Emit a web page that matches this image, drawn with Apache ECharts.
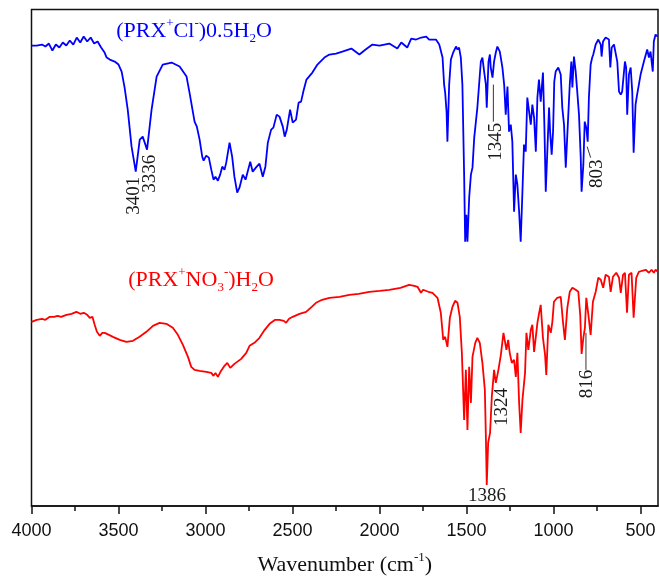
<!DOCTYPE html>
<html><head><meta charset="utf-8">
<script src="https://cdn.jsdelivr.net/npm/echarts@6/dist/echarts.min.js"></script>
<style>html,body{margin:0;padding:0;background:#fff}#c{width:659px;height:577px}</style>
</head><body><div id="c"></div>
<script>
// ---- data (wavenumber cm-1, transmittance in arbitrary offset units) ----
const clSpectrum = [[4000,460],[3970,460],[3940,461],[3920,459],[3900,462],[3880,455],[3860,461],[3840,458],[3820,463],[3800,460],[3780,465],[3760,461],[3740,468],[3720,463],[3700,469],[3680,464],[3660,468],[3640,462],[3620,464],[3600,458],[3580,453],[3568,448],[3550,446],[3522,444],[3500,441],[3482,434],[3465,418],[3447,396],[3425,359],[3401,334],[3378,366],[3361,369],[3336,356],[3310,396],[3281,429],[3246,441],[3195,443],[3149,439],[3109,429],
[3092,413],[3063,384],[3050,379],[3034,366],[3019,349],[3011,345],[2996,350],[2981,348],[2967,336],[2954,326],[2943,329],[2929,325],[2916,331],[2904,339],[2891,336],[2881,343],[2862,363],[2847,349],[2834,329],[2818,313],[2805,318],[2786,331],[2770,326],[2743,344],[2729,334],[2706,339],[2690,342],[2671,329],[2656,339],[2642,363],[2623,376],[2610,378],[2591,391],[2575,389],[2556,379],[2545,369],[2533,376],[2514,396],[2499,383],[2480,386],[2465,403],[2451,404],[2438,414],
[2420,426],[2386,433],[2357,441],[2317,448],[2288,451],[2250,452],[2214,454],[2162,457],[2116,451],[2080,456],[2041,461],[2000,460],[1944,462],[1898,457],[1875,463],[1841,458],[1818,467],[1790,466],[1760,468],[1732,469],[1715,466],[1676,466],
[1657,461],[1638,448],[1629,421],[1623,413],[1615,394],[1610,364],[1600,421],[1590,446],[1577,453],[1561,459],[1552,456],[1543,458],[1533,448],[1524,421],[1514,331],[1508,264],[1501,291],[1495,264],[1485,308],[1475,331],[1466,338],[1456,368],[1438,398],[1418,444],[1409,448],[1399,434],[1389,421],[1384,398],[1374,444],[1366,451],[1361,438],[1351,428],[1342,444],[1332,453],[1323,459],[1309,454],[1294,438],[1284,421],[1275,391],[1265,419],[1256,374],[1246,381],[1237,364],[1227,294],[1217,331],[1208,321],[1198,294],[1189,264],[1179,314],[1170,361],[1160,354],[1151,408],[1141,409],[1131,381],[1122,401],[1112,388],[1102,354],[1093,408],[1084,426],[1074,404],[1061,433],[1053,381],[1045,314],[1036,354],[1026,398],[1020,374],[1011,351],[1003,374],[996,424],[988,434],[973,438],[959,431],[950,398],[940,381],[930,338],[921,371],[907,421],[898,444],[892,418],[883,449],[873,434],[864,414],[854,391],[844,348],[839,314],[829,341],[821,384],[812,378],[804,364],[797,408],[787,441],[778,448],[772,451],[758,461],[743,466],[729,461],[724,449],[716,464],[701,468],[682,466],[674,438],[666,458],[653,461],[634,444],[624,414],[614,411],[606,414],[590,444],[583,438],[577,391],[567,431],[557,438],[548,414],[540,353],[529,401],[520,411],[500,431],[481,444],[462,456],[452,448],[443,454],[430,434],[424,464],[414,471],[402,469]];

const no3Spectrum = [[4000,184],[3970,186],[3940,187],[3920,186],[3895,189],[3870,189],[3850,190],[3830,189],[3799,191],[3770,192],[3742,194],[3720,192],[3700,193],[3680,191],[3665,188],[3650,189],[3637,181],[3624,174],[3608,170],[3593,173],[3579,173],[3570,174],[3555,171],[3532,169],[3493,166],[3455,164],[3417,165],[3379,169],[3340,174],[3302,180],[3264,183],[3225,182],[3188,178],[3159,171],[3130,161],[3101,149],[3082,139],[3063,136],[3034,135],[2996,134],[2967,133],[2954,130],[2943,133],[2929,129],[2914,134],[2891,140],[2875,143],[2858,138],[2834,142],[2795,147],[2766,153],[2747,160],[2719,163],[2690,168],[2660,176],[2632,182],[2600,186],[2575,186],[2550,185],[2537,183],[2520,187],[2499,189],[2460,192],[2422,194],[2390,199],[2365,203],[2330,206],[2288,208],[2230,209],[2174,211],[2120,212],[2059,214],[2000,215],[1944,216],[1880,218],[1830,221],[1800,220],[1782,219],[1762,213],[1750,216],[1743,216],[1720,214],[1696,213],[1667,208],[1648,193],[1634,166],[1623,169],[1610,159],[1596,188],[1581,199],[1566,205],[1552,203],[1539,189],[1527,153],[1514,86],[1504,136],[1495,76],[1485,139],[1475,103],[1466,149],[1450,163],[1438,168],[1424,163],[1409,143],[1395,116],[1389,69],[1384,21],[1376,63],[1365,73],[1355,109],[1342,136],[1332,123],[1317,136],[1303,151],[1288,173],[1279,164],[1271,156],[1261,166],[1252,153],[1240,143],[1227,146],[1217,129],[1208,153],[1198,103],[1189,73],[1179,106],[1164,133],[1156,173],[1145,156],[1131,176],[1122,181],[1112,154],[1102,169],[1093,183],[1084,192],[1074,201],[1061,168],[1049,151],[1042,131],[1030,181],[1016,173],[1007,184],[998,204],[979,208],[959,209],[946,184],[935,166],[921,198],[907,214],[892,218],[873,216],[858,214],[847,191],[839,152],[829,168],[820,178],[812,208],[802,194],[787,171],[774,204],[758,214],[743,228],[729,226],[715,218],[701,231],[682,229],[672,214],[659,229],[640,233],[624,228],[614,213],[601,231],[590,233],[578,193],[567,231],[552,233],[540,188],[525,228],[510,234],[491,235],[471,236],[452,233],[437,236],[424,233],[414,236],[401,234]];

const majorTicks = [4000,3500,3000,2500,2000,1500,1000,500];
const minorTicks = [3750,3250,2750,2250,1750,1250,750];

// peak annotations: text and anchor (data coords)
const peakLabels = [
  {text:'3401', at:[3413,310], vertical:true},
  {text:'3336', at:[3321,332], vertical:true},
  {text:'1345', at:[1330,364], vertical:true},
  {text:'803',  at:[751,332],  vertical:true},
  {text:'1324', at:[1296,99],  vertical:true},
  {text:'1386', at:[1382,10],  vertical:false},
  {text:'816',  at:[808,122],  vertical:true}
];
const leaderLines = [
  [[1346,421],[1346,384]],
  [[807,359],[787,348]],
  [[814,173],[814,136]]
];

const SERIF = '"Liberation Serif","Times New Roman",serif';
const SANS = '"Liberation Sans",Arial,sans-serif';
const INK = '#111';

function richStyles(color, key){
  const o = {};
  o.t = {fontFamily:SERIF,fontSize:22,lineHeight:28};
  o.sup = {fontFamily:SERIF,fontSize:13,lineHeight:13,verticalAlign:'top'};
  o.sub = {fontFamily:SERIF,fontSize:13,lineHeight:13,verticalAlign:'bottom'};
  Object.keys(o).forEach(function(k){ o[k][key] = color; });
  return o;
}

const chart = echarts.init(document.getElementById('c'), null, {renderer:'canvas'});
const option = {
  animation:false,
  backgroundColor:'#fff',
  grid:{left:31.5,right:1,top:9.5,bottom:71,containLabel:false,outerBoundsMode:'none',
    show:true,borderColor:INK,borderWidth:1.5,backgroundColor:'transparent'},
  xAxis:[{
    type:'value',inverse:true,min:400,max:4000,
    axisLine:{show:true,onZero:false,lineStyle:{color:INK,width:1.5}},
    axisTick:{show:true,inside:false,length:8,customValues:majorTicks,lineStyle:{color:INK,width:1.5}},
    axisLabel:{show:true,customValues:majorTicks,color:INK,fontFamily:SANS,fontSize:18,margin:16,
      formatter:function(v){return String(v);}},
    splitLine:{show:false},
    name:'{t|Wavenumber (cm}{sup|-1}{t|)}',
    nameLocation:'middle',nameGap:45,
    nameTextStyle:{rich:richStyles(INK,'color')}
  },{
    type:'value',inverse:true,min:400,max:4000,position:'bottom',
    axisLine:{show:false},
    axisTick:{show:true,inside:false,length:5,customValues:minorTicks,lineStyle:{color:INK,width:1.5}},
    axisLabel:{show:false},
    splitLine:{show:false}
  }],
  yAxis:{type:'value',min:0,max:496,show:true,
    axisLine:{show:false},axisTick:{show:false},axisLabel:{show:false},splitLine:{show:false}},
  series:[
    {name:'(PRX+Cl-)0.5H2O',type:'line',data:clSpectrum,showSymbol:false,symbol:'none',
     lineStyle:{color:'#0000ff',width:1.8},itemStyle:{color:'#0000ff'},xAxisIndex:0},
    {name:'(PRX+NO3-)H2O',type:'line',data:no3Spectrum,showSymbol:false,symbol:'none',
     lineStyle:{color:'#ff0000',width:1.8},itemStyle:{color:'#ff0000'},xAxisIndex:0}
  ]
};
chart.setOption(option);

function px(p){return chart.convertToPixel({xAxisIndex:0,yAxisIndex:0},p);}
const g = [];
peakLabels.forEach(function(a){
  const p = px(a.at);
  g.push({type:'text',x:p[0],y:p[1],rotation:a.vertical?Math.PI/2:0,silent:true,
    style:{text:a.text,fill:'#1a1a1a',font:'19px '+SERIF,align:'center',verticalAlign:'middle'}});
});
leaderLines.forEach(function(l){
  const a = px(l[0]), b = px(l[1]);
  g.push({type:'line',silent:true,shape:{x1:a[0],y1:a[1],x2:b[0],y2:b[1]},style:{stroke:'#333',lineWidth:1}});
});
g.push({type:'text',x:194,y:31,silent:true,
  style:{text:'{t|(PRX}{sup|+}{t|Cl}{sup|-}{t|)0.5H}{sub|2}{t|O}',fill:'#0000ff',rich:richStyles('#0000ff','fill'),align:'center',verticalAlign:'middle'}});
g.push({type:'text',x:201,y:280,silent:true,
  style:{text:'{t|(PRX}{sup|+}{t|NO}{sub|3}{sup|-}{t|)H}{sub|2}{t|O}',fill:'#ff0000',rich:richStyles('#ff0000','fill'),align:'center',verticalAlign:'middle'}});
chart.setOption({graphic:g});
</script></body></html>
